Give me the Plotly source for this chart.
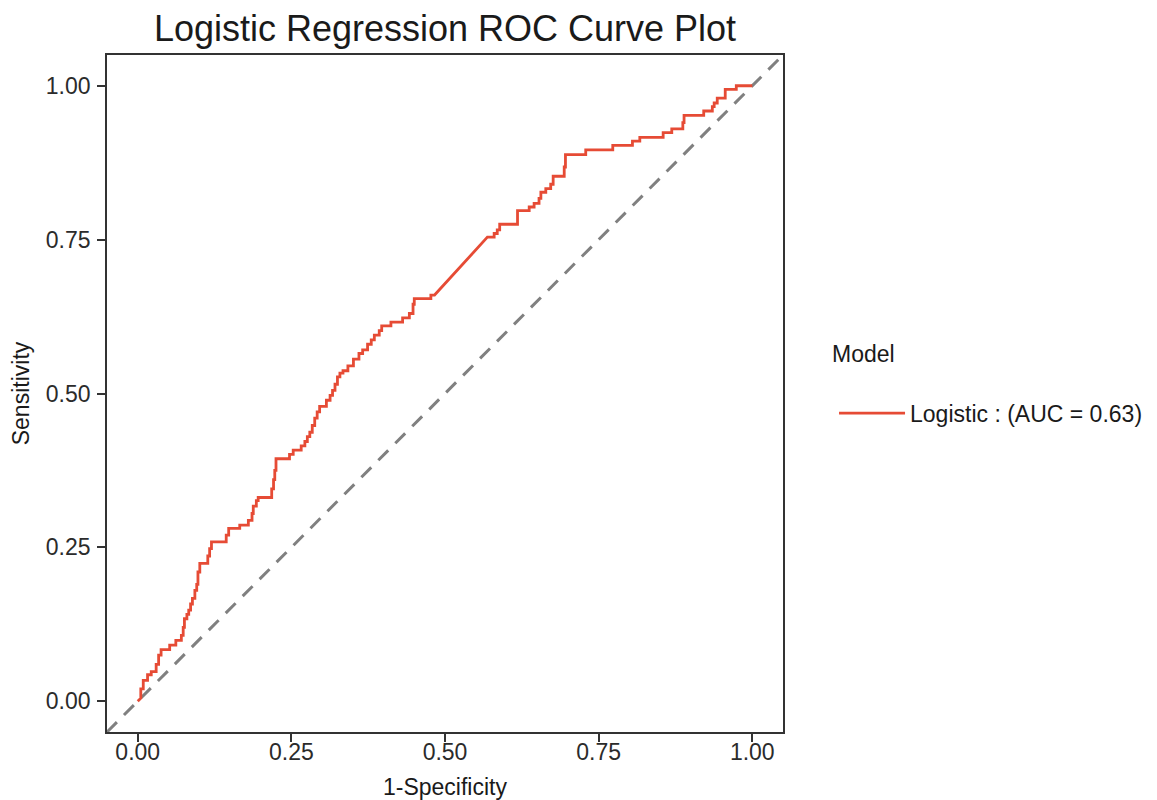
import plotly.graph_objects as go

# ROC curve vertices (1-Specificity, Sensitivity)
fpr = [0, 0.005, 0.005, 0.009, 0.009, 0.016, 0.016, 0.022, 0.022, 0.03, 0.03, 0.034, 0.034, 0.038, 0.038,
       0.052, 0.052, 0.062, 0.062, 0.071, 0.071, 0.074, 0.074, 0.076, 0.076, 0.08, 0.08, 0.083, 0.083,
       0.086, 0.086, 0.089, 0.089, 0.093, 0.093, 0.096, 0.096, 0.098, 0.098, 0.101, 0.101, 0.114, 0.114,
       0.117, 0.117, 0.120, 0.120, 0.144, 0.144, 0.148, 0.148, 0.166, 0.166, 0.18, 0.18, 0.186, 0.186,
       0.188, 0.188, 0.193, 0.193, 0.196, 0.196, 0.218, 0.218, 0.221, 0.221, 0.223, 0.223, 0.225, 0.225,
       0.247, 0.247, 0.253, 0.253, 0.266, 0.266, 0.272, 0.272, 0.276, 0.276, 0.28, 0.28, 0.284, 0.284,
       0.288, 0.288, 0.292, 0.292, 0.296, 0.296, 0.307, 0.307, 0.313, 0.313, 0.317, 0.317, 0.321, 0.321,
       0.325, 0.325, 0.329, 0.329, 0.334, 0.334, 0.342, 0.342, 0.351, 0.351, 0.36, 0.36, 0.366, 0.366,
       0.374, 0.374, 0.38, 0.38, 0.385, 0.385, 0.393, 0.393, 0.397, 0.397, 0.412, 0.412, 0.431, 0.431,
       0.442, 0.442, 0.448, 0.448, 0.45, 0.45, 0.477, 0.477, 0.483, 0.569, 0.58, 0.58, 0.585, 0.585,
       0.589, 0.589, 0.618, 0.618, 0.637, 0.637, 0.645, 0.645, 0.653, 0.653, 0.656, 0.656, 0.664, 0.664,
       0.672, 0.672, 0.676, 0.676, 0.694, 0.694, 0.696, 0.696, 0.729, 0.729, 0.773, 0.773, 0.805, 0.805,
       0.817, 0.817, 0.855, 0.855, 0.869, 0.869, 0.887, 0.887, 0.889, 0.889, 0.921, 0.921, 0.935, 0.935,
       0.938, 0.938, 0.943, 0.943, 0.956, 0.956, 0.974, 0.974, 1.0]
tpr = [0, 0.005, 0.02, 0.02, 0.034, 0.034, 0.043, 0.043, 0.048, 0.048, 0.06, 0.06, 0.075, 0.075, 0.084,
       0.084, 0.091, 0.091, 0.099, 0.099, 0.107, 0.107, 0.12, 0.12, 0.134, 0.134, 0.141, 0.141, 0.148,
       0.148, 0.158, 0.158, 0.167, 0.167, 0.18, 0.18, 0.19, 0.19, 0.21, 0.21, 0.224, 0.224, 0.236,
       0.236, 0.248, 0.248, 0.259, 0.259, 0.27, 0.27, 0.281, 0.281, 0.286, 0.286, 0.294, 0.294, 0.305,
       0.305, 0.317, 0.317, 0.326, 0.326, 0.331, 0.331, 0.345, 0.345, 0.36, 0.36, 0.375, 0.375, 0.394,
       0.394, 0.401, 0.401, 0.408, 0.408, 0.415, 0.415, 0.422, 0.422, 0.43, 0.43, 0.437, 0.437, 0.448,
       0.448, 0.46, 0.46, 0.47, 0.47, 0.479, 0.479, 0.489, 0.489, 0.497, 0.497, 0.505, 0.505, 0.515,
       0.515, 0.527, 0.527, 0.533, 0.533, 0.537, 0.537, 0.545, 0.545, 0.556, 0.556, 0.565, 0.565, 0.571,
       0.571, 0.58, 0.58, 0.587, 0.587, 0.595, 0.595, 0.602, 0.602, 0.61, 0.61, 0.616, 0.616, 0.623,
       0.623, 0.63, 0.63, 0.645, 0.645, 0.654, 0.654, 0.66, 0.66, 0.754, 0.754, 0.76, 0.76, 0.766,
       0.766, 0.775, 0.775, 0.797, 0.797, 0.803, 0.803, 0.809, 0.809, 0.817, 0.817, 0.827, 0.827, 0.833,
       0.833, 0.84, 0.84, 0.853, 0.853, 0.868, 0.868, 0.888, 0.888, 0.896, 0.896, 0.903, 0.903, 0.91,
       0.91, 0.916, 0.916, 0.924, 0.924, 0.93, 0.93, 0.94, 0.94, 0.952, 0.952, 0.959, 0.959, 0.966,
       0.966, 0.972, 0.972, 0.98, 0.98, 0.994, 0.994, 1.0, 1.0]

ref_line = [-0.05, 1.05]
tick_vals = [0, 0.25, 0.5, 0.75, 1.0]
tick_text = ["0.00", "0.25", "0.50", "0.75", "1.00"]
model_name = "Logistic : (AUC = 0.63)"

FONT = "Liberation Sans, Arial, sans-serif"
AXC = "#333333"

fig = go.Figure()
fig.add_trace(go.Scatter(x=ref_line, y=ref_line, mode="lines",
                         line=dict(color="#808080", width=3, dash="14px,10px"),
                         showlegend=False, hoverinfo="skip"))
fig.add_trace(go.Scatter(x=fpr, y=tpr, mode="lines", name=model_name,
                         line=dict(color="#E64B35", width=2.8)))

axis_common = dict(range=[-0.05, 1.05], tickvals=tick_vals, ticktext=tick_text,
                   showgrid=False, zeroline=False, showline=True, mirror=True,
                   linecolor=AXC, linewidth=1.6, ticks="outside", ticklen=8,
                   tickwidth=2, tickcolor=AXC,
                   tickfont=dict(family=FONT, size=23, color="#2b2b2b"),
                   automargin=False)

fig.update_layout(
    width=1157, height=800,
    margin=dict(l=99, r=382, t=47, b=76),
    paper_bgcolor="white", plot_bgcolor="white",
    font=dict(family=FONT, color="#1a1a1a"),
    title=dict(text="Logistic Regression ROC Curve Plot", x=0.5, xref="paper",
               xanchor="center", y=0.975, yref="container", yanchor="middle",
               font=dict(family=FONT, size=36, color="#1a1a1a")),
    xaxis=dict(**axis_common, ticklabelstandoff=-9,
               title=dict(text="1-Specificity", standoff=14,
                          font=dict(family=FONT, size=23, color="#1a1a1a"))),
    yaxis=dict(**axis_common, ticklabelstandoff=2,
               title=dict(text="Sensitivity", standoff=13,
                          font=dict(family=FONT, size=23, color="#1a1a1a"))),
    showlegend=True,
    legend=dict(x=1.0755, xanchor="left", y=0.471, yanchor="middle",
                font=dict(family=FONT, size=23, color="#1a1a1a"),
                itemwidth=66, bgcolor="rgba(0,0,0,0)"),
    annotations=[dict(text="Model", xref="paper", yref="paper", x=1.0695, y=0.558,
                      xanchor="left", yanchor="middle", showarrow=False,
                      font=dict(family=FONT, size=23, color="#1a1a1a"))],
)

fig.write_html("out.html")
